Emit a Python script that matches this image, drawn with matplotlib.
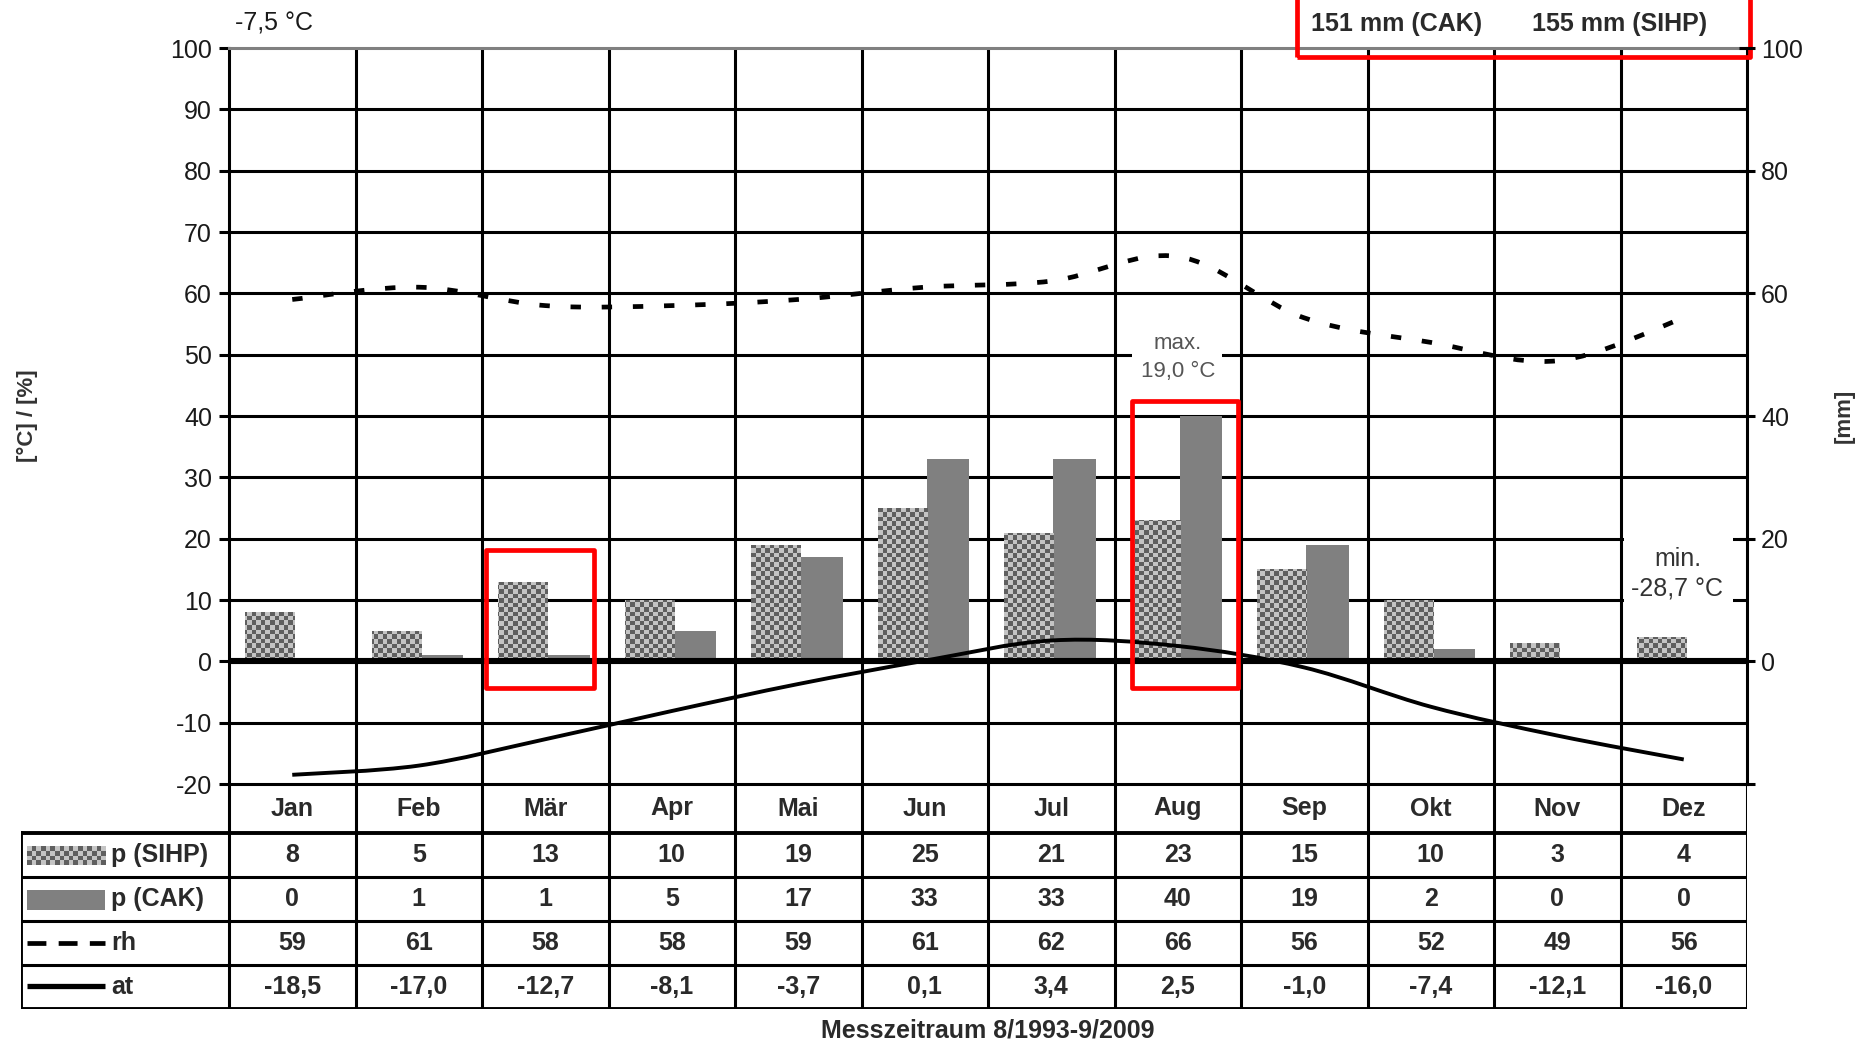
import matplotlib
matplotlib.use("Agg")
import matplotlib.pyplot as plt
import numpy as np
from matplotlib.path import Path
from matplotlib.patches import PathPatch, Rectangle
from matplotlib.colors import ListedColormap

plt.rcParams['font.family'] = ['Liberation Sans', 'DejaVu Sans']
plt.rcParams['axes.unicode_minus'] = False

months = ['Jan', 'Feb', 'Mär', 'Apr', 'Mai', 'Jun', 'Jul', 'Aug', 'Sep', 'Okt', 'Nov', 'Dez']
p_sihp = [8, 5, 13, 10, 19, 25, 21, 23, 15, 10, 3, 4]
p_cak = [0, 1, 1, 5, 17, 33, 33, 40, 19, 2, 0, 0]
rh = [59, 61, 58, 58, 59, 61, 62, 66, 56, 52, 49, 56]
at = [-18.5, -17.0, -12.7, -8.1, -3.7, 0.1, 3.4, 2.5, -1.0, -7.4, -12.1, -16.0]

mean_temp = '-7,5 °C'
sum_cak = '151 mm (CAK)'
sum_sihp = '155 mm (SIHP)'
t_max = 'max.\n19,0 °C'
t_min = 'min.\n-28,7 °C'
period = 'Messzeitraum 8/1993-9/2009'

DARK = '#5f5f5f'
LIGHT = '#c4c4c4'
GREY = '#808080'
TXT = '#1a1a1a'
checker_cmap = ListedColormap([DARK, LIGHT])
LW = 2.2
FS = 18


def smooth_path(x, y):
    """Bezier path through the points, like a spreadsheet 'smoothed line'."""
    pts = np.column_stack([x, y]).astype(float)
    n = len(pts)
    verts = [pts[0]]
    codes = [Path.MOVETO]
    for i in range(n - 1):
        p0 = pts[max(i - 1, 0)]
        p1 = pts[i]
        p2 = pts[i + 1]
        p3 = pts[min(i + 2, n - 1)]
        verts += [p1 + (p2 - p0) / 6.0, p2 - (p3 - p1) / 6.0, p2]
        codes += [Path.CURVE4] * 3
    return Path(verts, codes)


def checker(nx, ny):
    return (np.add.outer(np.arange(ny), np.arange(nx)) % 2).astype(float)


def fmt(v):
    return ('%.1f' % v).replace('.', ',')


W, H = 1866, 1043
fig = plt.figure(figsize=(W / 100, H / 100), dpi=100)

# main plot area in pixels
x0, x1, ytop, ybot = 229, 1747, 48, 784
ax = fig.add_axes([x0 / W, 1 - ybot / H, (x1 - x0) / W, (ybot - ytop) / H])
ax.set_xlim(0, 12)
ax.set_ylim(-20, 100)
px_x = (x1 - x0) / 12.0

# grid
for v in range(-10, 100, 10):
    if v == 0:
        continue
    ax.axhline(v, color='black', lw=LW, zorder=1)
for m in range(1, 12):
    ax.axvline(m, color='black', lw=LW, zorder=1)
ax.axhline(0, color='black', lw=4.4, zorder=4)

# white boxes behind the extreme temperature notes
ax.add_patch(Rectangle((7.14, 45.5), 0.71, 8.5, facecolor='white', edgecolor='none', zorder=1.5))
ax.add_patch(Rectangle((11.03, 7.5), 0.86, 15.5, facecolor='white', edgecolor='none', zorder=1.5))

# precipitation bars with checkered fill for SIHP
idx = np.arange(12)
board = checker(int((x1 - x0) / 4.5), int((ybot - ytop) / 4.5))
bars_s = ax.bar(idx + 0.127, p_sihp, 0.388, align='edge', color=LIGHT, linewidth=0, zorder=3)
for b in bars_s:
    im = ax.imshow(board, extent=(0, 12, -20, 100), cmap=checker_cmap, origin='lower',
                   interpolation='nearest', aspect='auto', zorder=3.1)
    im.set_clip_path(b)
ax.bar(idx + 0.515, p_cak, 0.335, align='edge', color=GREY, linewidth=0, zorder=3)
ax.set_xlim(0, 12)
ax.set_ylim(-20, 100)

# humidity and temperature curves
xc = idx + 0.5
ax.add_patch(PathPatch(smooth_path(xc, rh), fill=False, color='black', lw=3.4,
                       linestyle=(0, (2.2, 4.4)), capstyle='butt', zorder=5))
ax.add_patch(PathPatch(smooth_path(xc, at), fill=False, color='black', lw=2.8, zorder=5))

ax.text(7.5, 49.6, t_max, ha='center', va='center', fontsize=16, color='#555555',
        linespacing=1.45, zorder=6)
ax.text(11.45, 14.2, t_min, ha='center', va='center', fontsize=FS, color='#333333',
        linespacing=1.3, zorder=6)

# axes styling
ax.set_xticks([])
ax.set_yticks(range(-20, 101, 10))
ax.tick_params(axis='y', direction='out', length=7.2, width=LW, pad=5,
               labelsize=FS, labelcolor=TXT)
for s in ('left', 'right', 'bottom'):
    ax.spines[s].set_linewidth(LW)
    ax.spines[s].set_color('black')
ax.spines['top'].set_linewidth(LW)
ax.spines['top'].set_color(GREY)
ax.set_ylabel('[°C] / [%]', fontsize=16, fontweight='bold', color='#333333')
ax.yaxis.set_label_coords(-(x0 - 38) / (x1 - x0), 0.5)

ax2 = ax.twinx()
ax2.set_ylim(-20, 100)
ax2.set_yticks(range(-20, 101, 20))
ax2.set_yticklabels([''] + [str(v) for v in range(0, 101, 20)])
ax2.tick_params(axis='y', direction='inout', length=12, width=LW, pad=4,
                labelsize=FS, labelcolor=TXT)
for s in ax2.spines.values():
    s.set_visible(False)
ax2.set_ylabel('[mm]', fontsize=16, fontweight='bold', color='#333333')
ax2.yaxis.set_label_coords(1 + (1834 - x1) / (x1 - x0), 0.5)

# red highlight frames
red = dict(fill=False, edgecolor='#ff0000', lw=3.4, zorder=8, clip_on=False, joinstyle='round')
ax.add_patch(Rectangle((2.03, -4.3), 0.855, 22.5, **red))
ax.add_patch(Rectangle((7.14, -4.3), 0.84, 46.7, **red))
ax.add_patch(Rectangle((8.44, 98.6), 3.58, 15, **red))

fig.text(235 / W, 1 - 24 / H, mean_temp, ha='left', va='center', fontsize=FS, color=TXT)
fig.text(1311 / W, 1 - 24 / H, sum_cak, ha='left', va='center', fontsize=FS,
         fontweight='bold', color='#2a2a2a')
fig.text(1532 / W, 1 - 24 / H, sum_sihp, ha='left', va='center', fontsize=FS,
         fontweight='bold', color='#2a2a2a')

# data table below the plot
row_h = 44
tb_bot = 1009
lab_w = x0 - 21
tax = fig.add_axes([21 / W, 1 - tb_bot / H, (x1 - 21) / W, (tb_bot - ybot) / H])
xl = -lab_w / px_x
top = (tb_bot - ybot) / row_h
tax.set_xlim(xl, 12)
tax.set_ylim(0, top)
tax.axis('off')
for m in range(0, 13):
    tax.plot([m, m], [0, top], color='black', lw=LW, solid_capstyle='butt')
tax.plot([xl, xl], [0, 4], color='black', lw=2.8, solid_capstyle='projecting')
for r in range(0, 5):
    tax.plot([xl, 12], [r, r], color='black', lw=2.8 if r in (0, 4) else LW,
             solid_capstyle='projecting')

tstyle = dict(ha='center', va='center', fontsize=FS, fontweight='bold', color='#2a2a2a')
for i, name in enumerate(months):
    tax.text(i + 0.5, (4 + top) / 2, name, **tstyle)
rows = [[str(v) for v in p_sihp], [str(v) for v in p_cak],
        [str(v) for v in rh], [fmt(v) for v in at]]
for r, vals in enumerate(rows):
    yc = 3.5 - r
    for i, s in enumerate(vals):
        tax.text(i + 0.5, yc, s, **tstyle)

# legend entries in the first column
sx0, sx1 = (27 - x0) / px_x, (105 - x0) / px_x
tax.imshow(checker(17, 4), extent=(sx0, sx1, 3.27, 3.7), cmap=checker_cmap, origin='lower',
           interpolation='nearest', aspect='auto')
tax.add_patch(Rectangle((sx0, 2.24), sx1 - sx0, 0.46, color=GREY, linewidth=0))
tax.plot([sx0, sx1], [1.5, 1.5], color='black', lw=3.4, linestyle=(0, (4, 2.6)))
tax.plot([sx0, sx1], [0.52, 0.52], color='black', lw=3.8, solid_capstyle='butt')
tax.set_xlim(xl, 12)
tax.set_ylim(0, top)
lx = (111 - x0) / px_x
for r, lab in enumerate(['p (SIHP)', 'p (CAK)', 'rh', 'at']):
    tax.text(lx, 3.5 - r, lab, ha='left', va='center', fontsize=FS, fontweight='bold',
             color='#2a2a2a')

fig.text((x0 + x1) / 2 / W, 1 - 1031 / H, period, ha='center', va='center',
         fontsize=FS, fontweight='bold', color='#2a2a2a')

fig.savefig('out.png', dpi=100)
